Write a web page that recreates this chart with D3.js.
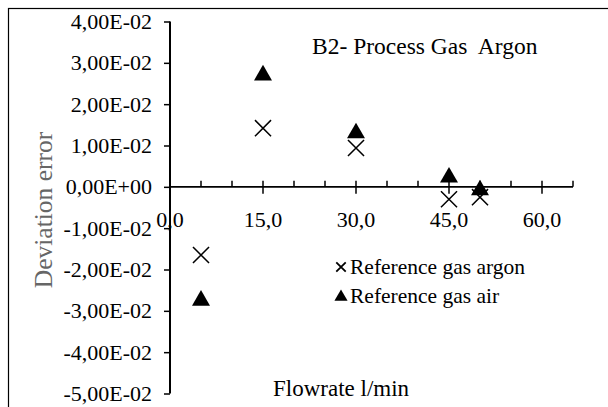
<!DOCTYPE html>
<html><head><meta charset="utf-8">
<script src="https://cdn.jsdelivr.net/npm/d3@7"></script>
<style>body{margin:0;background:#fff}svg{display:block}text{font-family:"Liberation Serif","Times New Roman",serif}</style>
</head><body>
<script>
const flow = [5, 15, 30, 45, 50];
const argon = [-0.0165, 0.0142, 0.0094, -0.003, -0.0025];
const air = [-0.0275, 0.027, 0.013, 0.0023, -0.0008];
const yTicks = [0.04, 0.03, 0.02, 0.01, 0, -0.01, -0.02, -0.03, -0.04, -0.05];
const xMajor = [0, 15, 30, 45, 60];
const xMinor = [5, 10, 20, 25, 35, 40, 50, 55, 65];

const W = 608, H = 407;
const svg = d3.select("body").append("svg").attr("width", W).attr("height", H);

svg.append("rect").attr("x", 8.5).attr("y", 8.5).attr("width", 620).attr("height", 420)
  .attr("fill", "none").attr("stroke", "#000").attr("stroke-width", 1.2);

const x = d3.scaleLinear().domain([0, 65]).range([170, 573]);
const y = d3.scaleLinear().domain([-0.05, 0.04]).range([393.5, 21.5]);

const fmt = v => {
  if (v === 0) return "0,00E+00";
  const e = Math.floor(Math.log10(Math.abs(v)) + 1e-9);
  const m = v / Math.pow(10, e);
  return (m.toFixed(2).replace(".", ",")) + "E" + (e < 0 ? "-" : "+") + String(Math.abs(e)).padStart(2, "0");
};

// Y axis
const ya = svg.append("g").attr("transform", `translate(${x(0)},0)`)
  .call(d3.axisLeft(y).tickValues(yTicks).tickSize(6).tickPadding(12).tickFormat(fmt));
ya.select(".domain").attr("stroke-width", 2).attr("d", `M0,${y(0.04)}V${y(-0.05)}`);
ya.selectAll(".tick line").attr("stroke-width", 1.5);
ya.selectAll("text").attr("font-family", null).attr("font-size", 22).attr("fill", "#000");

// X axis
const xa = svg.append("g").attr("transform", `translate(0,${y(0)})`);
xa.append("line").attr("x1", x(0)).attr("x2", x(65)).attr("stroke", "#000").attr("stroke-width", 1.6);
xa.selectAll(".minor").data(xMinor).join("line").attr("class", "minor")
  .attr("x1", d => x(d)).attr("x2", d => x(d)).attr("y1", -6).attr("y2", 0)
  .attr("stroke", "#000").attr("stroke-width", 1.5);
xa.selectAll(".major").data(xMajor.slice(1)).join("line").attr("class", "major")
  .attr("x1", d => x(d)).attr("x2", d => x(d)).attr("y1", -6).attr("y2", 7)
  .attr("stroke", "#000").attr("stroke-width", 1.5);
xa.selectAll(".xl").data(xMajor).join("text").attr("class", "xl")
  .attr("x", d => x(d)).attr("y", 40).attr("text-anchor", "middle")
  .attr("font-size", 22).text(d => d.toFixed(1).replace(".", ","));

// Points
const tri = d3.symbol().type(d3.symbolTriangle).size(140);
const cross = d3.symbol().type(d3.symbolX).size(170);
svg.selectAll(".air").data(flow).join("path").attr("class", "air")
  .attr("transform", (d, i) => `translate(${x(d)},${y(air[i])})`)
  .attr("d", tri).attr("fill", "#000");
svg.selectAll(".arg").data(flow).join("path").attr("class", "arg")
  .attr("transform", (d, i) => `translate(${x(d)},${y(argon[i])})`)
  .attr("d", cross).attr("fill", "none").attr("stroke", "#000").attr("stroke-width", 1.5);

// Title
svg.append("text").attr("x", 312).attr("y", 54).attr("font-size", 23.5)
  .style("white-space", "pre").text("B2- Process Gas  Argon");

// Legend
svg.append("path").attr("transform", "translate(341,267)").attr("d", d3.symbol().type(d3.symbolX).size(60))
  .attr("stroke", "#000").attr("stroke-width", 1.8).attr("fill", "none");
svg.append("text").attr("x", 350).attr("y", 274).attr("font-size", 21.5).text("Reference gas argon");
svg.append("path").attr("transform", "translate(341,297)").attr("d", d3.symbol().type(d3.symbolTriangle).size(75))
  .attr("fill", "#000");
svg.append("text").attr("x", 350).attr("y", 303).attr("font-size", 21.5).text("Reference gas air");

// Axis titles
svg.append("text").attr("x", 273).attr("y", 396).attr("font-size", 23).text("Flowrate l/min");
svg.append("text").attr("transform", "translate(52,210) rotate(-90)").attr("text-anchor", "middle")
  .attr("font-size", 25.5).attr("fill", "#666").text("Deviation error");
</script>
</body></html>
